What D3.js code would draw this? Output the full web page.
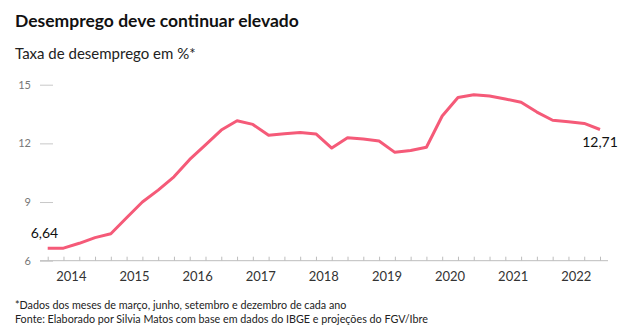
<!DOCTYPE html>
<html>
<head>
<meta charset="utf-8">
<script src="https://cdn.jsdelivr.net/npm/d3@7"></script>
<style>
  html, body { margin: 0; padding: 0; background: #fff; }
  svg { display: block; font-family: Lato, "Noto Sans", sans-serif; }
</style>
</head>
<body>
<svg id="chart" width="630" height="333"></svg>
<script>
// Quarterly unemployment rate (%), March/June/September/December, 2014–2022
const years = ["2014", "2015", "2016", "2017", "2018", "2019", "2020", "2021", "2022"];
const quarters = ["mar", "jun", "set", "dez"];
const rate = [
  6.64, 6.64, 6.89, 7.18,   // 2014
  7.38, 8.20, 9.00, 9.61,   // 2015
  10.29, 11.18, 11.92, 12.68, // 2016
  13.16, 12.97, 12.41, 12.49, // 2017
  12.56, 12.48, 11.76, 12.29, // 2018
  12.22, 12.12, 11.54, 11.64, // 2019
  11.80, 13.40, 14.35, 14.49, // 2020
  14.42, 14.27, 14.10, 13.60, // 2021
  13.18, 13.11, 13.02, 12.71  // 2022
];
const yTicks = [6, 9, 12, 15];

const svg = d3.select("#chart");
const lineColor = "#f55a78";

const x = d3.scaleLinear().domain([0, rate.length - 1]).range([47.7, 600]);
const y = d3.scaleLinear().domain([6, 15]).range([260.7, 84.7]);

// Title and subtitle
svg.append("text").attr("x", 15).attr("y", 27)
  .attr("font-size", 17.5).attr("font-weight", 700).attr("fill", "#111")
  .text("Desemprego deve continuar elevado");
svg.append("text").attr("x", 15).attr("y", 59)
  .attr("font-size", 15).attr("fill", "#222")
  .text("Taxa de desemprego em %*");

// Y axis: short stubs with labels
const yAxis = d3.axisLeft(y).tickValues(yTicks).tickSize(13).tickPadding(9)
  .tickFormat(d3.format("d"));
const gy = svg.append("g").attr("transform", "translate(53,0)").call(yAxis);
gy.select(".domain").remove();
gy.selectAll(".tick line").attr("stroke", "#c8c8c8").attr("stroke-width", 1);
gy.selectAll(".tick text").attr("fill", "#777").attr("font-size", 11)
  .attr("font-family", "Lato, sans-serif");

// X axis: baseline with upward quarter ticks
svg.append("line")
  .attr("x1", 40).attr("x2", 608)
  .attr("y1", y(6)).attr("y2", y(6))
  .attr("stroke", "#bdbdbd").attr("stroke-width", 1);

const xAxis = d3.axisBottom(x).tickValues(d3.range(rate.length))
  .tickSize(-4).tickFormat("");
const gx = svg.append("g").attr("transform", `translate(0,${y(6)})`).call(xAxis);
gx.select(".domain").remove();
gx.selectAll(".tick line").attr("stroke", "#bdbdbd");

// Year labels centred on each year's four quarters
svg.append("g").selectAll("text").data(years).join("text")
  .attr("x", (d, i) => x(i * quarters.length + 1.5))
  .attr("y", 281)
  .attr("text-anchor", "middle")
  .attr("font-size", 13).attr("fill", "#333")
  .text(d => d);

// Unemployment line
const line = d3.line().x((d, i) => x(i)).y(d => y(d));
svg.append("path").datum(rate)
  .attr("d", line)
  .attr("fill", "none")
  .attr("stroke", lineColor)
  .attr("stroke-width", 3)
  .attr("stroke-linejoin", "round");

// First and last value labels
const fmt = v => d3.format(".2f")(v).replace(".", ",");
svg.append("text")
  .attr("x", x(0) - 17).attr("y", y(rate[0]) - 10)
  .attr("font-size", 14).attr("fill", "#111")
  .text(fmt(rate[0]));
svg.append("text")
  .attr("x", x(rate.length - 1)).attr("y", y(rate[rate.length - 1]) + 18)
  .attr("text-anchor", "middle")
  .attr("font-size", 14).attr("fill", "#111")
  .text(fmt(rate[rate.length - 1]));

// Notes
svg.append("text").attr("x", 15).attr("y", 309)
  .attr("font-size", 10.75).attr("fill", "#222")
  .text("*Dados dos meses de março, junho, setembro e dezembro de cada ano");
svg.append("text").attr("x", 15).attr("y", 322.5)
  .attr("font-size", 10.75).attr("fill", "#222")
  .text("Fonte: Elaborado por Silvia Matos com base em dados do IBGE e projeções do FGV/Ibre");
</script>
</body>
</html>
